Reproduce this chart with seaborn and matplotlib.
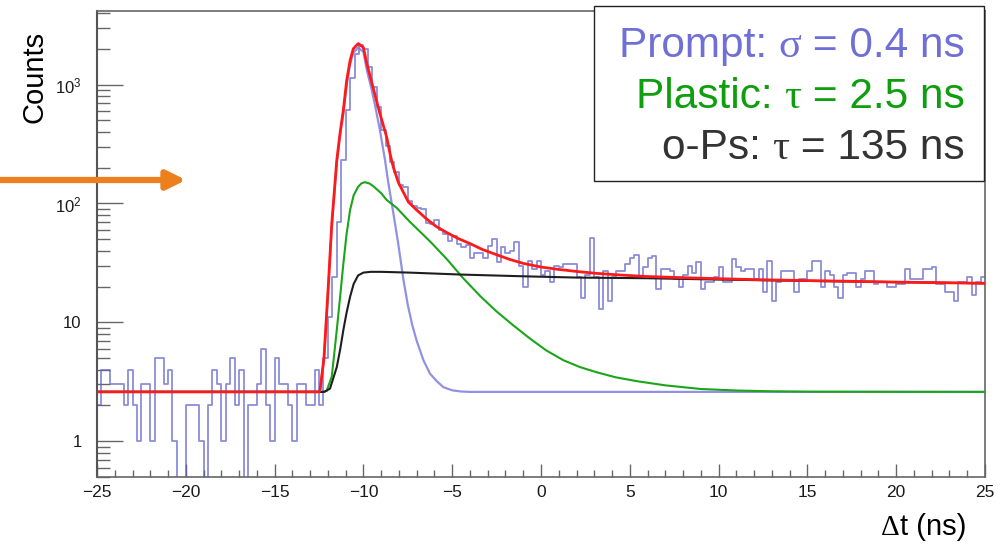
import numpy as np
import pandas as pd
import matplotlib
matplotlib.use("Agg")
import matplotlib.pyplot as plt
import matplotlib.patches as mpatches
from matplotlib.ticker import FixedLocator, FixedFormatter, MultipleLocator, NullFormatter
import seaborn as sns

# ---- data ----
t_min, t_max, bin_width = -25.0, 25.0, 0.25

# counts per 0.25 ns bin, -25 .. 25 ns
counts_flat = [2, 4, 4, 3, 3, 3, 2, 4, 2, 1, 3, 3, 1, 5, 5, 3, 4, 1, 0, 0,
               2, 2, 2, 1, 0, 2, 4, 3, 1, 3, 5, 2, 4, 0, 2, 2, 3, 6, 2, 1,
               5, 3, 3, 2, 1, 3, 3, 2, 2, 4, 2, 5]
counts_peak = [11, 24, 70, 230, 608, 1130, 1820, 2150, 2000, 1400, 955, 648,
               413, 303, 224, 184, 142, 138]
counts_tail = [105, 95, 92, 90, 68, 67, 72, 60, 55, 48, 53, 46, 43, 45, 35,
               38, 38, 35, 44, 50, 32, 43, 38, 40, 47, 30, 20, 33, 28, 33,
               25, 27, 22, 30, 29, 31, 31, 31, 24, 16, 25, 51, 24, 13, 27,
               15, 24, 27, 27, 31, 35, 37, 24, 29, 35, 36, 19, 28, 28, 27,
               23, 20, 25, 30, 26, 32, 19, 22, 22, 24, 29, 22, 22, 34, 29,
               27, 28, 28, 23, 28, 18, 33, 15, 22, 27, 27, 27, 18, 23, 23,
               27, 33, 33, 20, 27, 25, 20, 16, 25, 26, 26, 20, 23, 27, 27,
               21, 22, 22, 20, 20, 21, 21, 28, 23, 23, 23, 28, 28, 29, 21,
               21, 18, 18, 15, 22, 22, 24, 17, 22, 24]

# fit curves (t in ns, value in counts)
fit_t = [-25, -12.5, -12.44, -12.22, -11.97, -11.78, -11.5, -11.32, -11.13, -10.94,
         -10.75, -10.57, -10.29, -10.0, -9.81, -9.44, -9.07, -8.69, -8.5, -8.32,
         -8.03, -7.47, -7.0, -6.44, -5.9, -5.31, -4.7, -4.0, -3.3, -2.49,
         -1.75, -0.99, 0, 0.88, 2, 3.14, 4.5, 5.95, 7.8, 10, 12.5, 15.5, 20, 25]
fit_v = [2.6, 2.6, 2.7, 5.0, 21, 68, 230, 386, 608, 1085,
         1590, 2000, 2213, 2050, 1510, 925, 570, 362, 262, 203,
         150, 103, 88, 74, 64, 57, 51, 46, 41, 37,
         33.8, 31.3, 29.2, 28, 26.8, 25.8, 25, 24.3, 23.8, 23.3, 22.8, 22.4, 21.8, 21.3]

prompt_t = [-25, -12.5, -12.44, -12.22, -11.97, -11.78, -11.5, -11.32, -11.13, -10.94,
            -10.75, -10.57, -10.29, -10.0, -9.81, -9.53, -9.3, -9.07, -8.78, -8.6,
            -8.32, -8.03, -7.75, -7.5, -7.25, -7.0, -6.62, -6.25, -5.87, -5.5,
            -5.0, -4.5, -4.0, 25]
prompt_v = [2.6, 2.6, 2.7, 4.9, 20, 64, 218, 368, 570, 1000,
            1480, 1850, 2050, 1880, 1330, 900, 620, 414, 230, 150,
            84, 45, 23, 14, 9.5, 7.0, 4.8, 3.7, 3.2, 2.85,
            2.68, 2.62, 2.6, 2.6]

plastic_t = [-25, -12.3, -12.07, -11.78, -11.5, -11.3, -11.13, -10.95, -10.75, -10.55,
             -10.3, -10.1, -9.91, -9.65, -9.4, -9.0, -8.69, -8.13, -7.38, -6.25,
             -5.3, -4.38, -3.4, -2.49, -1.55, -0.62, 0.3, 1.26, 2.2, 3.14,
             4.2, 5.4, 7, 9, 11, 13, 15, 25]
plastic_v = [2.6, 2.6, 2.65, 3.5, 8.6, 17, 31, 55, 88, 117,
             138, 148, 151, 147, 138, 122, 107, 92, 70, 48,
             34, 23.5, 16.5, 12.3, 9.4, 7.3, 5.8, 4.8, 4.2, 3.8,
             3.45, 3.2, 2.95, 2.75, 2.67, 2.63, 2.61, 2.6]

ops_t = [-25, -12.2, -11.88, -11.5, -11.3, -11.13, -10.95, -10.75, -10.55, -10.3,
         -10.0, -9.6, -9.0, -7.4, -4.4, -1.0, 2, 6, 10, 15, 20, 25]
ops_v = [2.6, 2.6, 2.77, 4.2, 6.0, 8.6, 12, 16.4, 21, 24.8,
         26.2, 26.6, 26.6, 26.2, 25.2, 24.4, 23.8, 23.5, 22.9, 22.3, 21.8, 21.3]

# legend: (label, greek symbol, value) per line
legend_rows = [("Prompt: ", "\u03c3", " = 0.4 ns"),
               ("Plastic: ", "\u03c4", " = 2.5 ns"),
               ("o-Ps: ", "\u03c4", " = 135 ns")]
legend_colors = ["#6F6FD6", "#0E9E0E", "#333333"]

# ---- build frames ----
counts = counts_flat + counts_peak + counts_tail
n_bins = len(counts)
centers = t_min + bin_width * (np.arange(n_bins) + 0.5)
hist_df = pd.DataFrame({"t": centers, "counts": counts})

# ---- style ----
sns.set_style("white")
SANS = ["Liberation Sans", "DejaVu Sans"]
SERIF = ["Liberation Serif", "DejaVu Serif"]
plt.rcParams["font.family"] = SANS
plt.rcParams["mathtext.fontset"] = "custom"
plt.rcParams["mathtext.rm"] = "Liberation Sans"
plt.rcParams["axes.unicode_minus"] = True

W, H = 1005, 544
fig = plt.figure(figsize=(W / 100, H / 100), dpi=100)
ax = fig.add_axes([97 / W, 1 - 477 / H, 888 / W, 466.5 / H])
ax.set_yscale("log", nonpositive="clip")

sns.histplot(data=hist_df, x="t", weights="counts", binwidth=bin_width,
             binrange=(t_min, t_max), element="step", fill=False,
             color="#5C5CCB", alpha=0.7, linewidth=1.3, ax=ax)

sns.lineplot(x=prompt_t, y=prompt_v, color="#7E7EE0", linewidth=1.6, alpha=0.85,
             sort=False, ax=ax, zorder=3)
sns.lineplot(x=plastic_t, y=plastic_v, color="#1AA51A", linewidth=1.5,
             sort=False, ax=ax, zorder=4)
sns.lineplot(x=ops_t, y=ops_v, color="#1E1E1E", linewidth=1.5,
             sort=False, ax=ax, zorder=5)
sns.lineplot(x=fit_t, y=fit_v, color="#FF1A1A", linewidth=2.0,
             sort=False, ax=ax, zorder=6)

ax.set_xlim(t_min, t_max)
ax.set_ylim(0.5, 4200)
ax.set_xlabel("")
ax.set_ylabel("")

# axis ticks, ROOT look
ax.xaxis.set_major_locator(MultipleLocator(5))
ax.xaxis.set_minor_locator(MultipleLocator(1))
y_major = [1, 10, 100, 1000]
ax.yaxis.set_major_locator(FixedLocator(y_major))
ax.yaxis.set_major_formatter(FixedFormatter(["1", "10", r"$\mathregular{10^{2}}$",
                                             r"$\mathregular{10^{3}}$"]))
y_minor = [m * 10.0 ** e for e in range(-1, 4) for m in range(2, 10)]
ax.yaxis.set_minor_locator(FixedLocator(y_minor))
ax.yaxis.set_minor_formatter(NullFormatter())

ax.tick_params(axis="both", which="both", direction="in", colors="#666666",
               labelcolor="#1a1a1a", width=1.0,
               bottom=True, left=True, top=False, right=False)
ax.tick_params(axis="x", which="major", length=9.5, pad=6, labelsize=12.5)
ax.tick_params(axis="x", which="minor", length=5)
ax.tick_params(axis="y", which="major", length=19, pad=11, labelsize=12)
ax.tick_params(axis="y", which="minor", length=9.5)

for name, sp in ax.spines.items():
    sp.set_visible(True)
    sp.set_color("#666666")
    sp.set_linewidth(1.2)
ax.spines["left"].set_color("#555555")
ax.spines["left"].set_linewidth(1.5)

renderer = fig.canvas.get_renderer()


def pieces_right(x_px, base_px, pieces, size, color, z=11):
    """Draw text pieces (text, family) right to left, ending at x_px."""
    x = x_px
    for txt, fam in reversed(pieces):
        t = fig.text(x / W, 1 - base_px / H, txt, ha="right", va="baseline",
                     fontsize=size, color=color, family=fam, zorder=z)
        x = t.get_window_extent(renderer).x0
    return x


# axis titles
fig.text(35 / W, 1 - 77 / H, "Counts", rotation=90, ha="center", va="center",
         fontsize=21, color="black")
pieces_right(966, 535, [("\u0394", SERIF), ("t (ns)", SANS)], 21, "black")

# legend box
box = mpatches.Rectangle((594 / W, 1 - 181 / H), 390 / W, 175 / H,
                         transform=fig.transFigure, facecolor="white",
                         edgecolor="#222222", linewidth=1.0, zorder=10)
fig.patches.append(box)
for i, ((lab, sym, val), col) in enumerate(zip(legend_rows, legend_colors)):
    pieces_right(965, 57 + 51 * i, [(lab, SANS), (sym, SERIF), (val, SANS)],
                 30.5, col)

# orange arrow
ax.annotate("", xy=(186, H - 180), xytext=(0, H - 180),
            xycoords="figure pixels", textcoords="figure pixels",
            arrowprops=dict(arrowstyle="-|>", color="#EC801E", lw=4.5,
                            mutation_scale=28, shrinkA=0, shrinkB=0),
            annotation_clip=False)

fig.savefig("out.png", dpi=100)
